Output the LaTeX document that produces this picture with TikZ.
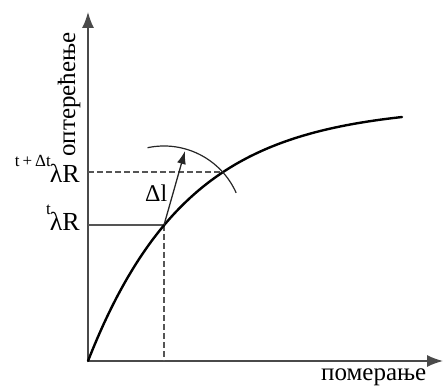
\documentclass[tikz,border=0pt]{standalone}
\usepackage{fontspec}
\setmainfont{Liberation Serif}
\usetikzlibrary{arrows.meta}
\definecolor{axisgray}{HTML}{4A4A4A}
\definecolor{guidegray}{HTML}{555555}
\tikzset{
  axisline/.style={draw=axisgray, line width=1.5pt, -{Latex[length=16pt,width=12pt]}},
  guide/.style={draw=guidegray, line width=1.3pt},
  guidedash/.style={guide, dash pattern=on 6pt off 3pt},
  curveline/.style={draw=black, line width=2.4pt},
  lbl/.style={inner sep=0pt, font=\rmfamily\fontsize{25}{25}\selectfont},
  lamlbl/.style={inner sep=0pt, anchor=base east, font=\rmfamily\fontsize{26}{26}\selectfont}
}
\newcommand{\supx}[1]{\raisebox{16pt}{\fontsize{17}{17}\selectfont #1}\hspace{-1pt}}
\begin{document}
\begin{tikzpicture}[x=1pt,y=1pt]
\useasboundingbox (0,0) rectangle (443,385);
\coordinate (O) at (88,24);
\coordinate (ytip) at (88,373);
\coordinate (xtip) at (443,24);
\coordinate (P1) at (164,160);
\coordinate (P2) at (223,213);
\coordinate (A1) at (88,160);
\coordinate (A2) at (88,213);
\coordinate (B1) at (164,24);
\coordinate (T) at (185,234);
% axes
\draw[axisline] (O) -- (ytip);
\draw[axisline] (O) -- (xtip);
% guides
\draw[guide] (A1) -- (P1);
\draw[guidedash] (P1) -- (B1);
\draw[guidedash] (A2) -- (P2);
% curve
\draw[curveline, line cap=round] plot[domain=0:314, samples=120, smooth] ({88+\x},{24+255*(1-exp(-\x/100))});
% arc and arrow
\draw[draw=black!85, line width=1.2pt] (P1) ++(24:79) arc[start angle=24, end angle=102, radius=79];
\draw[draw=black!85, line width=1.3pt, -{Latex[length=13pt,width=9pt]}] (P1) -- (T);
% labels
\node[lamlbl] (lamU) at (80,202) {\supx{t\hspace{3pt}+\hspace{3pt}Δt}λR};
\node[lamlbl] (lamL) at (80,154) {\supx{t}λR};
\node[lbl, rotate=90, anchor=base west] (ylab) at (75,228) {оптерећење};
\node[lbl, anchor=base west] (xlab) at (321,5) {померање};
\node[lbl, anchor=base west, font=\rmfamily\fontsize{24}{24}\selectfont] (dl) at (145,183) {Δl};
\end{tikzpicture}
\end{document}
